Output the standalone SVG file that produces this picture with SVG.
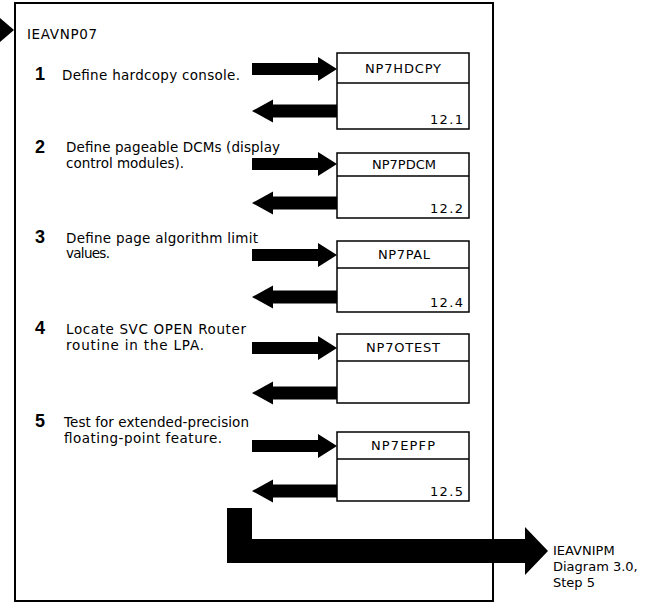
<svg xmlns="http://www.w3.org/2000/svg" xmlns:xlink="http://www.w3.org/1999/xlink" width="650" height="604" viewBox="0 0 650 604">
  <style>
    .txt { font-family: "DejaVu Sans", "Liberation Sans", sans-serif; font-size: 13.5px; fill: #000; }
    .side { font-family: "DejaVu Sans", "Liberation Sans", sans-serif; font-size: 13px; fill: #000; }
    .num { font-family: "Liberation Sans", Arial, sans-serif; font-size: 18px; font-weight: bold; fill: #000; }
    .lbl { font-family: "DejaVu Sans", "Liberation Sans", sans-serif; font-size: 13px; fill: #000; text-anchor: middle; }
    .ref { font-family: "DejaVu Sans", "Liberation Sans", sans-serif; font-size: 13px; fill: #000; }
    .box { fill: #fff; stroke: #000; stroke-width: 1.5; }
    .frame { fill: #fff; stroke: #000; stroke-width: 2; }
    .fat { fill: #000; }
  </style>
  <defs>
    <!-- wide block arrows, centred on y = 0 -->
    <polygon id="arrowR" points="252,-6 318,-6 318,-12 337,0 318,12 318,6 252,6"/>
    <polygon id="arrowL" points="337,-6.5 273,-6.5 273,-11.5 252,0 273,11.5 273,6.5 337,6.5"/>
  </defs>

  <rect width="650" height="604" fill="#fff"/>

  <!-- module frame -->
  <g id="module">
    <rect class="frame" x="15" y="3" width="478" height="598"/>
    <text class="txt" x="27" y="39" textLength="70" lengthAdjust="spacing">IEAVNP07</text>
  </g>

  <!-- step texts -->
  <g id="step1">
    <text class="num" x="35" y="80">1</text>
    <text class="txt" x="62" y="80" textLength="178" lengthAdjust="spacing">Define hardcopy console.</text>
  </g>
  <g id="step2">
    <text class="num" x="35" y="153">2</text>
    <text class="txt" x="66" y="152" textLength="214" lengthAdjust="spacing">Define pageable DCMs (display</text>
    <text class="txt" x="66" y="168" textLength="118" lengthAdjust="spacing">control modules).</text>
  </g>
  <g id="step3">
    <text class="num" x="35" y="243">3</text>
    <text class="txt" x="66" y="243" textLength="192" lengthAdjust="spacing">Define page algorithm limit</text>
    <text class="txt" x="66" y="258" textLength="44" lengthAdjust="spacing">values.</text>
  </g>
  <g id="step4">
    <text class="num" x="35" y="334">4</text>
    <text class="txt" x="66" y="334" textLength="180" lengthAdjust="spacing">Locate SVC OPEN Router</text>
    <text class="txt" x="66" y="350" textLength="138" lengthAdjust="spacing">routine in the LPA.</text>
  </g>
  <g id="step5">
    <text class="num" x="35" y="427">5</text>
    <text class="txt" x="64" y="427" textLength="185" lengthAdjust="spacing">Test for extended-precision</text>
    <text class="txt" x="64" y="443" textLength="158" lengthAdjust="spacing">floating-point feature.</text>
  </g>

  <!-- called routines -->
  <g id="NP7HDCPY">
    <rect class="box" x="337" y="53" width="132" height="76"/>
    <line x1="337" y1="83" x2="469" y2="83" stroke="#000" stroke-width="1.5"/>
    <text class="lbl" x="403" y="73" textLength="76" lengthAdjust="spacing">NP7HDCPY</text>
    <text class="ref" x="430" y="124" textLength="33" lengthAdjust="spacing">12.1</text>
  </g>
  <g id="NP7PDCM">
    <rect class="box" x="337" y="153" width="132" height="65"/>
    <line x1="337" y1="176" x2="469" y2="176" stroke="#000" stroke-width="1.5"/>
    <text class="lbl" x="404" y="169" textLength="64" lengthAdjust="spacing">NP7PDCM</text>
    <text class="ref" x="430" y="213" textLength="33" lengthAdjust="spacing">12.2</text>
  </g>
  <g id="NP7PAL">
    <rect class="box" x="337" y="241" width="132" height="71"/>
    <line x1="337" y1="268" x2="469" y2="268" stroke="#000" stroke-width="1.5"/>
    <text class="lbl" x="404" y="259" textLength="52" lengthAdjust="spacing">NP7PAL</text>
    <text class="ref" x="430" y="307" textLength="33" lengthAdjust="spacing">12.4</text>
  </g>
  <g id="NP7OTEST">
    <rect class="box" x="337" y="334" width="132" height="69"/>
    <line x1="337" y1="361" x2="469" y2="361" stroke="#000" stroke-width="1.5"/>
    <text class="lbl" x="403" y="352" textLength="74" lengthAdjust="spacing">NP7OTEST</text>
  </g>
  <g id="NP7EPFP">
    <rect class="box" x="337" y="432" width="132" height="69"/>
    <line x1="337" y1="459" x2="469" y2="459" stroke="#000" stroke-width="1.5"/>
    <text class="lbl" x="403" y="450" textLength="64" lengthAdjust="spacing">NP7EPFP</text>
    <text class="ref" x="430" y="496" textLength="33" lengthAdjust="spacing">12.5</text>
  </g>

  <!-- next module -->
  <g id="IEAVNIPM">
    <text class="side" x="553" y="555">IEAVNIPM</text>
    <text class="side" x="553" y="571">Diagram 3.0,</text>
    <text class="side" x="553" y="587">Step 5</text>
  </g>

  <!-- connectors -->
  <g id="connectors" class="fat">
    <polygon points="0,18 14,30 0,42"/>
    <use xlink:href="#arrowR" y="69"/>
    <use xlink:href="#arrowL" y="111"/>
    <use xlink:href="#arrowR" y="164"/>
    <use xlink:href="#arrowL" y="203"/>
    <use xlink:href="#arrowR" y="255"/>
    <use xlink:href="#arrowL" y="297"/>
    <use xlink:href="#arrowR" y="348"/>
    <use xlink:href="#arrowL" y="393"/>
    <use xlink:href="#arrowR" y="446"/>
    <use xlink:href="#arrowL" y="491"/>
    <polygon points="227,508 252,508 252,539 525,539 525,527 548,551 525,575 525,563 227,563"/>
  </g>
</svg>
